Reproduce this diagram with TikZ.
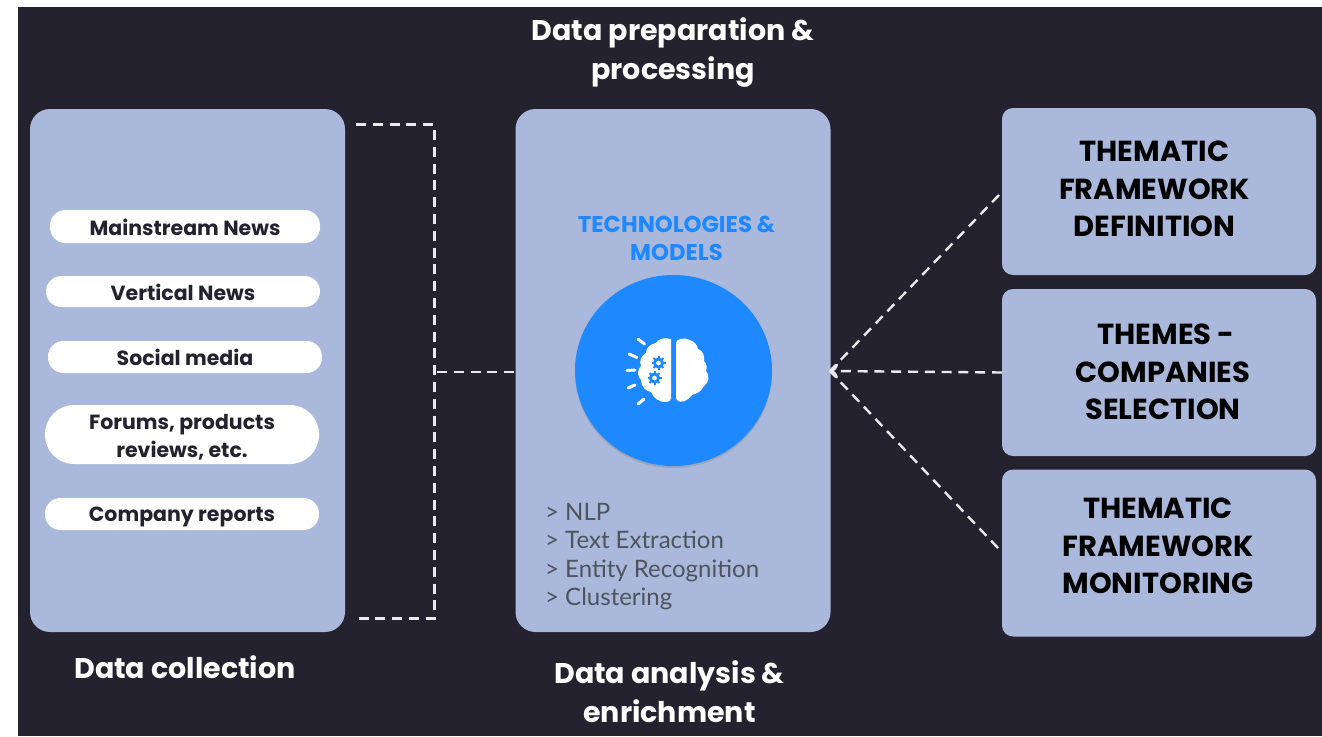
\documentclass[tikz,border=0pt]{standalone}
\usepackage{fontspec}
\setmainfont{Poppins}
\newfontfamily\listfont{Lato}
\usetikzlibrary{shadows,shapes.geometric,arrows.meta}
\definecolor{darkbg}{HTML}{252230}
\definecolor{panelblue}{HTML}{A9B8DB}
\definecolor{brightblue}{HTML}{1E88FF}
\definecolor{listgray}{HTML}{50535C}
\tikzset{
  panel/.style={shape=rectangle, fill=panelblue, inner sep=0, minimum width=315, minimum height=523, rounded corners=20},
  themebox/.style={shape=rectangle, fill=panelblue, inner sep=0, minimum width=314, minimum height=167, rounded corners=11},
  themetext/.style={text=black, align=center, font=\fontsize{29}{37.5}\selectfont\bfseries},
  pill/.style={shape=rectangle, fill=white, inner sep=0, minimum width=274, rounded corners=15.5},
  pilltext/.style={text=darkbg, align=center, font=\fontsize{20.5}{28}\selectfont\bfseries},
  heading/.style={text=white, align=center, font=\fontsize{28.5}{39}\selectfont\bfseries},
  dashline/.style={draw=white!92!black, line width=2.4, dash pattern=on 10pt off 6.8pt},
  arrowline/.style={dashline, -{To[length=8pt,width=15pt]}},
}
\begin{document}
\begin{tikzpicture}[x=1pt, y=-1pt]
  \useasboundingbox (0,0) rectangle (1322,736);
  \fill[white] (0,0) rectangle (1322,736);
  \fill[darkbg] (18,7) rectangle (1322,736);

  \path (187.5,370.5) node [panel] (collect) {}
        (673,370.5) node [panel] (analysis) {}
        (1159,191.5) node [themebox] (define) {}
        (1159,372.5) node [themebox] (select) {}
        (1159,553) node [themebox] (monitor) {}
        (1154.5,189) node [themetext] (definetext) {THEMATIC\\FRAMEWORK\\DEFINITION}
        (1163,372) node [themetext] (selecttext) {~THEMES -\\COMPANIES\\SELECTION}
        (1158,546) node [themetext] (monitortext) {THEMATIC\\FRAMEWORK\\MONITORING}
  ;

  \path (185,226.5) node [pill, minimum width=270, minimum height=33] (news) {}
        (183,291.5) node [pill, minimum height=31] (vertical) {}
        (185,357) node [pill, minimum height=32] (social) {}
        (182,434.5) node [pill, minimum height=59, rounded corners=29] (forums) {}
        (182,514) node [pill, minimum height=32] (reports) {}
        (185,227.5) node [pilltext] (newstext) {Mainstream News}
        (183,292.5) node [pilltext] (verticaltext) {Vertical News}
        (185,357.5) node [pilltext] (socialtext) {Social media}
        (182,437) node [pilltext] (forumstext) {Forums, products\\reviews, etc.}
        (182,517) node [pilltext] (reportstext) {Company reports}
  ;

  \path (673,52.5) node [heading] (prep) {Data preparation \&\\processing}
        (185,667) node [heading] (collecttitle) {Data collection}
        (669.5,691.5) node [heading] (enrich) {Data analysis \&\\enrichment}
        (676.5,238) node [text=brightblue, align=center, font=\fontsize{22.8}{28}\selectfont\bfseries] (tech) {TECHNOLOGIES \&\\MODELS}
        (545,556.5) node [anchor=west, inner sep=0, text=listgray, align=left, font=\fontsize{24}{28.3}\selectfont\listfont] (methods) {> NLP\\> Text Extraction\\> Entity Recognition\\> Clustering}
  ;

  \node [shape=ellipse, fill=brightblue, inner sep=0, minimum width=197, minimum height=191,
    drop shadow={shadow xshift=0pt, shadow yshift=-2pt, opacity=.35}] (brain) at (673.5,370.5) {};

  % brain icon
  \fill[white] (671,339) .. controls (664,337) and (658,339) .. (656,343)
     .. controls (650,344) and (646,348) .. (646,353) .. controls (641,356) and (639,361) .. (641,366)
     .. controls (637,370) and (637,376) .. (641,380) .. controls (641,387) and (646,391) .. (651,392)
     .. controls (653,398) and (660,403) .. (667,402) .. controls (670,401.5) and (671,400) .. (671,398) -- cycle;
  \fill[white] (676,343) .. controls (676,339) and (684,337) .. (690,340)
     .. controls (695,342) and (697,345) .. (698,349) .. controls (703,351) and (705,356) .. (704,361)
     .. controls (707,364) and (707,368) .. (706,371) .. controls (710,375) and (709,383) .. (704,386)
     .. controls (701,392) and (696,394) .. (692,395) .. controls (688,401) and (680,404) .. (677,400)
     .. controls (676,399) and (676,398) .. (676,396) -- cycle;
  \foreach \gx/\gy in {658.5/363, 654.5/378} {
    \foreach \ang in {0,45,...,315}
      \draw[brightblue, line width=2] (\gx,\gy) ++(\ang:4) -- ++(\ang:3);
    \draw[brightblue, line width=2.8] (\gx,\gy) circle (4);
  }
  \foreach \xa/\ya/\xb/\yb in {638/339/644.5/344, 629/354/637/357.5, 627/370.5/635/370, 628/388/635/385, 638/404/644/399}
    \draw[white, line width=3, line cap=round] (\xa,\ya) -- (\xb,\yb);

  \coordinate (topend) at (356,124.5);
  \coordinate (topcorner) at (434.5,124.5);
  \coordinate (botcorner) at (434.5,618.5);
  \coordinate (botend) at (356,618.5);
  \coordinate (joint) at (437,372);
  \coordinate (target) at (830,371);
  \coordinate (fromdefine) at (999,195);
  \coordinate (fromselect) at (1002,372.5);
  \coordinate (frommonitor) at (998,548);

  \draw[dashline] (topend) -- (topcorner) -- (botcorner) -- (botend);
  \draw[dashline] (joint) -- (analysis.west |- joint);
  \draw[dashline] (fromdefine) -- (target);
  \draw[arrowline] (fromselect) -- (target);
  \draw[dashline] (frommonitor) -- (target);
\end{tikzpicture}
\end{document}
